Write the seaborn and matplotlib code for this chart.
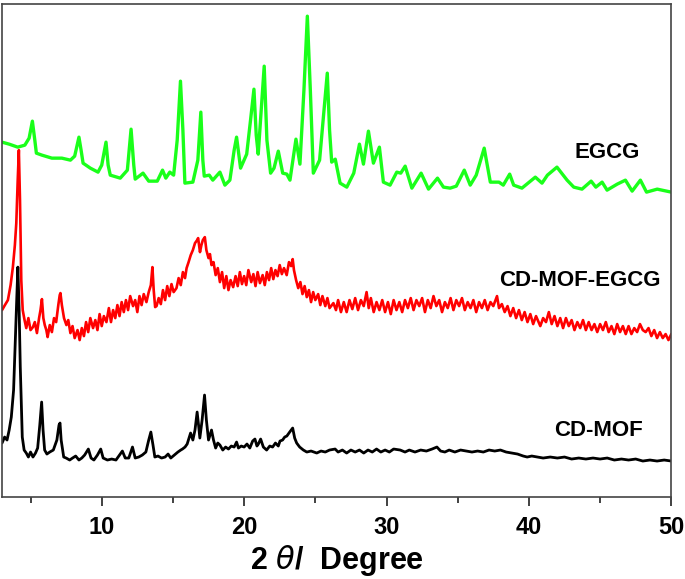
import numpy as np
import pandas as pd
import matplotlib
matplotlib.use("Agg")
import matplotlib.pyplot as plt
import seaborn as sns

# ========================== DATA ==========================
# 2-theta (degree) and stacked intensity (a.u.)

egcg_2theta = [3.0, 3.5, 4.1, 4.6, 4.9, 5.13, 5.3, 5.41, 5.8, 6.5, 7.2, 7.8, 8.1, 8.4, 8.55, 8.69,
               9.2, 9.74, 10.0, 10.3, 10.45, 10.6, 11.3, 11.8, 12.06, 12.25, 12.35, 12.9, 13.3,
               13.9, 14.27, 14.5, 14.78, 15.05, 15.3, 15.53, 15.7, 15.84, 16.4, 16.75, 16.96,
               17.1, 17.2, 17.55, 17.8, 18.3, 18.65, 19.0, 19.3, 19.47, 19.75, 20.18, 20.45,
               20.69, 20.85, 20.99, 21.2, 21.41, 21.6, 21.86, 22.1, 22.4, 22.71, 23.0, 23.22,
               23.64, 23.92, 24.2, 24.44, 24.65, 24.86, 25.3, 25.84, 26.0, 26.15, 26.4, 26.74,
               27.21, 27.7, 28.1, 28.38, 28.73, 29.08, 29.5, 29.78, 30.25, 30.72, 31.0, 31.31,
               31.78, 32.43, 32.95, 33.58, 34.0, 34.47, 34.9, 35.46, 35.88, 36.3, 36.86, 37.29,
               37.9, 38.2, 38.65, 38.93, 39.51, 40.45, 40.92, 41.3, 41.97, 42.68, 43.15, 43.73,
               44.37, 44.7, 45.14, 45.49, 46.2, 46.78, 47.25, 47.83, 48.26, 49.01, 50.0]
egcg_int = [355, 353, 350, 352, 359, 376, 357, 344, 342, 339, 339, 337, 341, 360, 347, 334,
            329, 325, 332, 355, 332, 322, 319, 327, 368, 332, 318, 324, 316,
            316, 327, 319, 325, 322, 357, 416, 367, 314, 315, 337, 385,
            337, 321, 322, 317, 325, 312, 317, 347, 360, 329, 343, 377,
            408, 362, 343, 387, 431, 357, 324, 329, 346, 324, 323, 317,
            358, 333, 407, 481, 407, 324, 337, 424, 367, 335, 338, 314,
            310, 324, 353, 333, 366, 334, 350, 315, 312, 325, 324, 331,
            309, 324, 308, 319, 310, 309, 311, 327, 312, 322, 349, 315,
            315, 312, 323, 312, 309, 320, 314, 322, 330, 317, 310, 308,
            316, 310, 315, 307, 313, 317, 306, 317, 305, 308, 305]

cdmof_egcg_2theta = [3.0, 3.2, 3.41, 3.6, 3.76, 3.9, 4.0, 4.1, 4.18, 4.26, 4.35, 4.45, 4.58, 4.7,
                     4.85, 5.0, 5.17, 5.3, 5.45, 5.6, 5.7, 5.8, 5.9, 6.0, 6.11, 6.2, 6.35, 6.5,
                     6.65, 6.8, 6.95, 7.05, 7.1, 7.2, 7.35, 7.52, 7.65, 7.8, 7.95, 8.1, 8.3, 8.45,
                     8.6, 8.75, 8.9, 9.05, 9.2, 9.39, 9.55, 9.7, 9.85, 10.0, 10.15, 10.33, 10.5,
                     10.65, 10.8, 10.95, 11.1, 11.25, 11.4, 11.55, 11.7, 11.85, 12.0, 12.2, 12.35,
                     12.5, 12.65, 12.8, 12.95, 13.14, 13.3, 13.45, 13.56, 13.65, 13.75, 13.85,
                     14.0, 14.15, 14.3, 14.45, 14.6, 14.75, 14.9, 15.05, 15.25, 15.4, 15.55, 15.7,
                     15.85, 15.96, 16.1, 16.25, 16.4, 16.55, 16.7, 16.77, 16.9, 17.0, 17.1, 17.24,
                     17.35, 17.5, 17.6, 17.71, 17.85, 18.0, 18.15, 18.3, 18.45, 18.6, 18.75, 18.9,
                     19.05, 19.23, 19.4, 19.55, 19.7, 19.85, 20.0, 20.15, 20.3, 20.5, 20.65, 20.8,
                     20.95, 21.11, 21.3, 21.45, 21.6, 21.75, 21.9, 22.05, 22.2, 22.35, 22.5, 22.65,
                     22.8, 22.99, 23.15, 23.3, 23.41, 23.5, 23.65, 23.8, 23.95, 24.1, 24.25, 24.4,
                     24.55, 24.7, 24.85, 25.0, 25.2, 25.35, 25.5, 25.7, 25.85, 26.0, 26.27, 26.45,
                     26.6, 26.8, 27.0, 27.2, 27.4, 27.6, 27.8, 28.0, 28.2, 28.4, 28.6, 28.75, 28.9,
                     29.1, 29.3, 29.5, 29.7, 29.9, 30.1, 30.3, 30.5, 30.7, 30.9, 31.1, 31.3, 31.5,
                     31.7, 31.9, 32.1, 32.3, 32.5, 32.7, 32.9, 33.1, 33.3, 33.5, 33.7, 33.9, 34.1,
                     34.3, 34.5, 34.7, 34.9, 35.1, 35.3, 35.5, 35.7, 35.9, 36.1, 36.3, 36.5, 36.7,
                     36.9, 37.1, 37.3, 37.5, 37.76, 37.9, 38.1, 38.3, 38.5, 38.7, 38.9, 39.1, 39.3,
                     39.5, 39.7, 39.9, 40.1, 40.3, 40.5, 40.8, 41.0, 41.2, 41.4, 41.6, 41.8, 42.0,
                     42.2, 42.4, 42.6, 42.8, 43.0, 43.2, 43.4, 43.6, 43.8, 44.0, 44.2, 44.4, 44.6,
                     44.8, 45.0, 45.2, 45.4, 45.6, 45.8, 46.0, 46.2, 46.4, 46.6, 46.8, 47.0, 47.2,
                     47.4, 47.6, 47.8, 48.0, 48.2, 48.4, 48.6, 48.8, 49.0, 49.2, 49.4, 49.6, 49.8,
                     50.0]
cdmof_egcg_int = [187, 192, 197, 212, 230, 252, 274, 317, 347, 297, 217, 187, 177, 169,
                  179, 167, 170, 175, 164, 179, 187, 198, 179, 172, 167, 160, 172, 165,
                  179, 175, 192, 202, 204, 192, 179, 172, 177, 164, 171, 159, 167, 157,
                  169, 161, 175, 165, 179, 169, 177, 167, 183, 171, 181, 175, 189,
                  175, 187, 179, 192, 181, 195, 185, 197, 187, 201, 191, 197,
                  185, 201, 192, 203, 195, 205, 212, 230, 207, 190, 191,
                  199, 193, 207, 197, 211, 201, 213, 205, 209, 219, 212, 225,
                  219, 229, 235, 242, 247, 254, 257, 259, 245, 252, 257, 260,
                  247, 239, 243, 232, 235, 222, 229, 215, 225, 209, 221, 207,
                  217, 210, 221, 211, 225, 213, 221, 212, 227, 215, 223, 211,
                  225, 214, 222, 212, 225, 217, 229, 218, 227, 221, 232, 223,
                  229, 222, 235, 231, 238, 227, 217, 209, 215, 203, 211, 200,
                  207, 195, 205, 197, 203, 192, 201, 191, 199, 189, 194, 187,
                  197, 185, 195, 185, 197, 188, 199, 187, 197, 191, 205, 189, 199,
                  185, 195, 187, 197, 185, 195, 183, 197, 187, 195, 185, 197, 189,
                  199, 187, 197, 191, 199, 185, 197, 189, 201, 191, 197, 185, 195,
                  189, 199, 187, 197, 191, 199, 187, 195, 189, 197, 185, 195, 189,
                  197, 187, 195, 191, 201, 189, 193, 185, 191, 181, 189, 179, 187,
                  177, 185, 175, 183, 173, 181, 171, 179, 175, 185, 173, 181, 171,
                  179, 169, 179, 171, 177, 167, 175, 169, 177, 167, 175, 167, 173,
                  165, 173, 167, 175, 165, 171, 163, 173, 165, 171, 163, 171, 163,
                  169, 165, 173, 167, 165, 169, 161, 167, 159, 165, 159, 163, 157,
                  163]

cdmof_2theta = [3.0, 3.18, 3.35, 3.5, 3.65, 3.81, 3.95, 4.05, 4.11, 4.2, 4.28, 4.42, 4.55, 4.7,
                4.85, 5.0, 5.17, 5.35, 5.5, 5.65, 5.78, 5.88, 5.99, 6.15, 6.35, 6.6, 6.85, 7.0,
                7.07, 7.15, 7.33, 7.5, 7.75, 7.95, 8.17, 8.4, 8.6, 8.8, 9.06, 9.25, 9.45, 9.7,
                9.93, 10.1, 10.4, 10.7, 11.0, 11.25, 11.45, 11.65, 11.9, 12.16, 12.35, 12.6,
                12.85, 13.1, 13.3, 13.45, 13.6, 13.73, 13.95, 14.2, 14.45, 14.66, 14.85, 15.1,
                15.35, 15.55, 15.67, 15.85, 16.0, 16.24, 16.4, 16.55, 16.7, 16.8, 16.89, 17.05,
                17.22, 17.35, 17.5, 17.71, 17.85, 18.0, 18.15, 18.3, 18.5, 18.7, 18.9, 19.1,
                19.3, 19.47, 19.6, 19.8, 20.0, 20.2, 20.4, 20.6, 20.76, 20.9, 21.0, 21.16,
                21.35, 21.58, 21.8, 22.0, 22.2, 22.4, 22.52, 22.7, 22.85, 23.0, 23.2, 23.41,
                23.55, 23.69, 23.9, 24.16, 24.4, 24.7, 25.1, 25.4, 25.7, 26.0, 26.39, 26.6,
                26.9, 27.2, 27.5, 27.8, 28.1, 28.4, 28.7, 29.0, 29.3, 29.6, 29.9, 30.2, 30.5,
                30.96, 31.3, 31.6, 32.0, 32.4, 32.8, 33.2, 33.54, 33.8, 34.1, 34.4, 34.8, 35.2,
                35.6, 36.0, 36.4, 36.8, 37.2, 37.6, 38.0, 38.4, 38.8, 39.2, 39.6, 39.88, 40.2,
                40.6, 41.0, 41.5, 42.0, 42.5, 43.0, 43.5, 44.0, 44.5, 45.0, 45.5, 46.0, 46.5,
                47.0, 47.5, 48.0, 48.5, 49.0, 49.5, 50.0]
cdmof_int = [54, 60, 57, 67, 80, 107, 164, 207, 230, 187, 130, 60, 47, 44,
             40, 45, 40, 44, 49, 72, 95, 67, 47, 43, 45, 47, 57, 72,
             74, 57, 40, 39, 37, 39, 41, 37, 39, 42, 48, 39, 37, 42,
             48, 39, 37, 38, 37, 42, 46, 39, 39, 50, 39, 40,
             42, 45, 57, 65, 52, 40, 41, 39, 40, 43, 39, 42,
             45, 47, 48, 50, 53, 64, 57, 67, 85, 72, 59, 77,
             102, 77, 57, 67, 57, 49, 54, 52, 47, 50, 48, 51,
             50, 55, 49, 51, 50, 53, 49, 56, 58, 51, 53, 58,
             50, 47, 51, 50, 54, 51, 56, 57, 60, 61, 65, 69,
             59, 54, 50, 47, 45, 46, 44, 46, 45, 47, 48, 45,
             47, 44, 47, 45, 47, 44, 47, 45, 48, 45, 47, 45, 48,
             47, 45, 47, 45, 47, 46, 48, 50, 46, 45, 47, 45, 47,
             46, 45, 46, 45, 47, 46, 47, 45, 44, 43, 41, 40, 41,
             40, 39, 40, 39, 40, 38, 39, 38, 39, 38, 39, 37, 38,
             37, 38, 36, 37, 36, 37, 36]

sample_labels = ["EGCG", "CD-MOF-EGCG", "CD-MOF"]
label_2theta = [45.5, 43.6, 44.9]
label_int = [345, 217, 67]

# ========================== PLOT ==========================

sns.set_style("ticks")
plt.rcParams["font.family"] = ["Liberation Sans", "DejaVu Sans"]
plt.rcParams["mathtext.fontset"] = "dejavusans"
plt.rcParams["text.color"] = "black"
plt.rcParams["axes.labelcolor"] = "black"
plt.rcParams["xtick.color"] = "#333333"
plt.rcParams["xtick.labelcolor"] = "black"

fig = plt.figure(figsize=(6.85, 5.79), dpi=100)
ax = fig.add_axes([0.003, 0.1416, 0.977, 0.852])

traces = [
    (egcg_2theta, egcg_int, "#1aff1a", 2.4),
    (cdmof_egcg_2theta, cdmof_egcg_int, "#ff0000", 1.9),
    (cdmof_2theta, cdmof_int, "#000000", 2.0),
]
for xs, ys, col, lw in traces:
    df = pd.DataFrame({"two_theta": xs, "intensity": ys})
    sns.lineplot(data=df, x="two_theta", y="intensity", color=col, linewidth=lw,
                 estimator=None, sort=False, ax=ax)

for lab, lx, ly in zip(sample_labels, label_2theta, label_int):
    ax.text(lx, ly, lab, ha="center", va="center", fontsize=16, fontweight="bold",
            color="black")

ax.set_xlim(3, 50)
ax.set_ylim(0, 493.5)
ax.set_xticks([10, 20, 30, 40, 50])
ax.set_xticks([5, 15, 25, 35, 45], minor=True)
ax.set_yticks([])
ax.tick_params(axis="x", which="major", bottom=True, direction="out", length=6.5, width=1.3,
               labelsize=17, pad=7)
ax.tick_params(axis="x", which="minor", bottom=True, direction="out", length=4, width=1.3)
ax.tick_params(axis="y", left=False)
for lbl in ax.get_xticklabels():
    lbl.set_fontweight("bold")
for sp in ax.spines.values():
    sp.set_visible(True)
    sp.set_color("#444444")
    sp.set_linewidth(1.2)

ax.set_xlabel(r"2 $\mathit{\theta}$/  Degree", fontsize=22, fontweight="bold", labelpad=3)
ax.set_ylabel("")

fig.savefig("out.png", dpi=100)
